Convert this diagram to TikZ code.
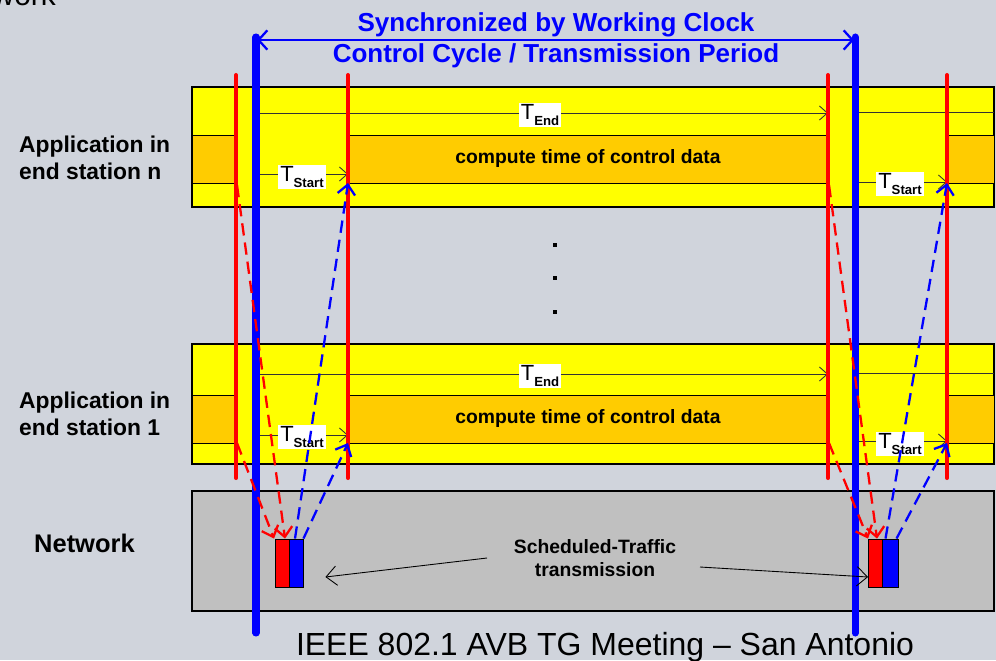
\documentclass[tikz,border=0pt]{standalone}
\usepackage{fontspec}
\setmainfont{Liberation Sans}
\usetikzlibrary{arrows.meta,positioning}
\definecolor{slidebg}{HTML}{D0D4DC}
\definecolor{laneyellow}{HTML}{FFFF00}
\definecolor{computeorange}{HTML}{FFCC00}
\definecolor{netgray}{HTML}{C0C0C0}
\newcommand{\tsub}[1]{T\raisebox{-0.45ex}{\fontsize{7.5}{8}\bfseries #1}}

\begin{document}
\begin{tikzpicture}[x=0.02cm, y=-0.02cm,
    lanebox/.style={draw=black, line width=0.6pt},
    computebox/.style={fill=computeorange, draw=black, line width=0.5pt},
    redbar/.style={draw=red, line width=2.3pt, line cap=round},
    clockbar/.style={draw=blue, line width=4pt, line cap=round},
    timeline/.style={draw=black!80, line width=0.5pt},
    tick/.style={-{Straight Barb[length=4.5pt, width=8pt]}},
    tlabel/.style={fill=white, inner sep=1.2pt, font=\fontsize{12.5}{12.5}\selectfont},
    redreq/.style={draw=red, line width=1.3pt, dash pattern=on 7pt off 4pt, -{Straight Barb[length=5.5pt, width=10pt]}},
    bluereq/.style={draw=blue, line width=1.3pt, dash pattern=on 7pt off 4pt, -{Straight Barb[length=5.5pt, width=10pt]}},
    frame/.style={draw=black, line width=0.5pt, minimum width=0.28cm, minimum height=0.96cm, inner sep=0pt},
    side/.style={font=\bfseries\fontsize{13}{15.5}\selectfont, align=left, anchor=west},
    inbox/.style={font=\bfseries\fontsize{11}{13}\selectfont, align=center}
]
    \fill[slidebg] (0,0) rectangle (996,660);
    \useasboundingbox (0,0) rectangle (996,660);

    \node[anchor=base east, font=\fontsize{17}{17}\selectfont] (slidetitle) at (62,5) {work};
    \node[font=\bfseries\fontsize{14.8}{17}\selectfont, text=blue] (sync) at (556,25) {Synchronized by Working Clock};
    \node[font=\bfseries\fontsize{14.8}{17}\selectfont, text=blue] (cycle) at (556,56) {Control Cycle / Transmission Period};

    % lanes
    \draw[lanebox, fill=laneyellow] (192,87) rectangle (994,207);
    \draw[lanebox, fill=laneyellow] (192,344) rectangle (994,464);
    \draw[lanebox, fill=netgray] (192,491) rectangle (994,611);
    \foreach \top/\bot in {135/183, 395/443} {
        \draw[computebox] (192,\top) rectangle (236,\bot);
        \draw[computebox] (348,\top) rectangle (828,\bot);
        \draw[computebox] (947,\top) rectangle (994,\bot);
    }

    \node[side] (appN) at (13,158) {Application in\\end station n};
    \node[side] (app1) at (13,414) {Application in\\end station 1};
    \node[side, font=\bfseries\fontsize{14.5}{16}\selectfont] (net) at (28,543) {Network};
    \node[inbox] (computeN) at (588,158) {compute time of control data};
    \node[inbox] (compute1) at (588,418) {compute time of control data};

    % time lines
    \foreach \ya/\yb/\yc in {113/174/182, 374/435/441} {
        \draw[timeline, tick] (256,\ya) -- (828,\ya);
        \draw[timeline] (856,\ya-1) -- (994,\ya-1);
        \draw[timeline, tick] (256,\yb) -- (348,\yb);
        \draw[timeline, tick] (856,\yc) -- (947,\yc);
    }
    \node[tlabel] (endN) at (540,115) {\tsub{End}};
    \node[tlabel] (end1) at (540,376) {\tsub{End}};
    \node[tlabel] (startN) at (302,177) {\tsub{Start}};
    \node[tlabel] (start1) at (302,437) {\tsub{Start}};
    \node[tlabel] (startNr) at (900,184) {\tsub{Start}};
    \node[tlabel] (start1r) at (900,444) {\tsub{Start}};

    \foreach \x in {236,348,828,947}
        \draw[redbar] (\x,75) -- (\x,478);
    \draw[clockbar] (256,37) -- (256,633);
    \draw[clockbar] (855,37) -- (855,633);
    \draw[blue, line width=1.3pt, {Straight Barb[length=5pt, width=11pt]}-{Straight Barb[length=5pt, width=11pt]}] (257,40) -- (854,40);

    \foreach \y in {245,278,312}
        \fill (553,\y-2) rectangle (557,\y+2);

    % scheduled frames
    \node[frame, fill=red] (redL) at (282,563) {};
    \node[frame, fill=blue] (blueL) at (296,563) {};
    \node[frame, fill=red] (redR) at (875.5,563) {};
    \node[frame, fill=blue, minimum width=0.32cm] (blueR) at (890.5,563) {};

    \coordinate (nOutL) at (237,185);
    \coordinate (oneOutL) at (237,443);
    \coordinate (nInL) at (348,183);
    \coordinate (oneInL) at (348,443);
    \coordinate (nOutR) at (829,185);
    \coordinate (oneOutR) at (829,443);
    \coordinate (nInR) at (947,183);
    \coordinate (oneInR) at (947,443);

    \draw[redreq] (nOutL) -- ([xshift=0.06cm]redL.north);
    \draw[redreq] (oneOutL) -- ([xshift=-0.16cm]redL.north);
    \draw[bluereq] ([xshift=-0.02cm]blueL.north) -- (nInL);
    \draw[bluereq] (blueL.north east) -- (oneInL);
    \draw[redreq] (nOutR) -- ([xshift=0.03cm]redR.north);
    \draw[redreq] (oneOutR) -- ([xshift=-0.15cm]redR.north);
    \draw[bluereq] ([xshift=-0.1cm]blueR.north) -- (nInR);
    \draw[bluereq] ([xshift=0.12cm]blueR.north) -- (oneInR);

    \node[inbox] (sched) at (595,558) {Scheduled-Traffic\\transmission};
    \draw[line width=0.5pt, -{Straight Barb[length=6pt, width=11pt]}] (487,558) -- ([xshift=0.44cm, yshift=-0.28cm]blueL.east);
    \draw[line width=0.5pt, -{Straight Barb[length=6pt, width=11pt]}] (700,567) -- ([yshift=-0.28cm]redR.west);

    \node[anchor=base, font=\fontsize{18.2}{18.2}\selectfont] (meeting) at (605,655) {IEEE 802.1 AVB TG Meeting – San Antonio};
\end{tikzpicture}
\end{document}
